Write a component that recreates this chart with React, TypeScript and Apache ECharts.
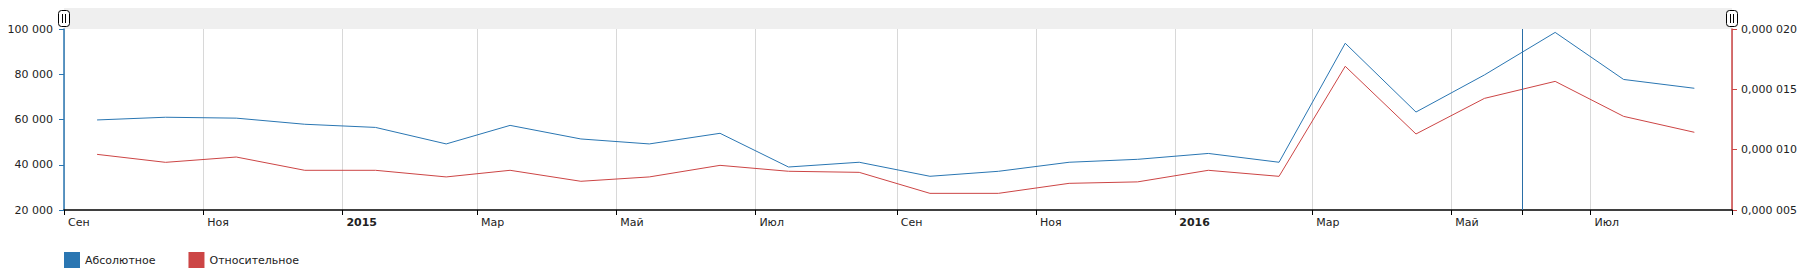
import React, { useEffect, useRef } from "react";
import * as echarts from "echarts";

// Months of the observations (points sit in the middle of each month)
const months = [
  "2014-09", "2014-10", "2014-11", "2014-12",
  "2015-01", "2015-02", "2015-03", "2015-04", "2015-05", "2015-06",
  "2015-07", "2015-08", "2015-09", "2015-10", "2015-11", "2015-12",
  "2016-01", "2016-02", "2016-03", "2016-04", "2016-05", "2016-06",
  "2016-07", "2016-08",
];

// "Абсолютное" (left axis)
const absoluteValues = [
  59800, 61000, 60600, 57900,
  56500, 49200, 57400, 51400, 49200, 53900,
  39000, 41100, 34900, 37100, 41100, 42400,
  45000, 41100, 93700, 63300, 79700, 98500,
  77700, 73800,
];

// "Относительное" (right axis)
const relativeValues = [
  0.00000961, 0.00000895, 0.00000939, 0.00000829,
  0.00000829, 0.00000774, 0.00000829, 0.00000738, 0.00000774, 0.0000087,
  0.00000821, 0.00000812, 0.00000638, 0.00000638, 0.00000721, 0.00000733,
  0.00000829, 0.00000779, 0.00001691, 0.0000113, 0.00001425, 0.00001566,
  0.00001276, 0.00001144,
];

const seriesNames = ["Абсолютное", "Относительное"];
const monthNames = ["Янв", "Фев", "Мар", "Апр", "Май", "Июн", "Июл", "Авг", "Сен", "Окт", "Ноя", "Дек"];

const xStart = "2014-09-01";
const xEnd = "2016-09-01";
const cursorDate = "2016-06-01";

const leftMin = 20000;
const leftMax = 100000;
const leftInterval = 20000;
const rightMin = 0.000005;
const rightMax = 0.00002;
const rightInterval = 0.000005;

const colors = { abs: "#2a76b2", rel: "#cc4545", cursor: "#2a6ea6" };

function dateOf(s: string): number {
  const [y, m, d] = s.split("-").map(Number);
  return new Date(y, m - 1, d || 15, d ? 0 : 12).getTime();
}

function fmtThousands(v: number): string {
  return String(Math.round(v)).replace(/\B(?=(\d{3})+(?!\d))/g, " ");
}

function fmtSmall(v: number): string {
  const s = v.toFixed(6).replace(".", ",");
  return s.replace(/,(\d{3})(\d{3})$/, ",$1 $2");
}

function handle(cx: number) {
  return {
    type: "group",
    x: cx,
    y: 10,
    silent: true,
    children: [
      {
        type: "rect",
        shape: { x: -5.5, y: 0.5, width: 11, height: 16, r: 3 },
        style: { fill: "#ffffff", stroke: "#000000", lineWidth: 1 },
      },
      {
        type: "line",
        shape: { x1: -1.5, y1: 4, x2: -1.5, y2: 13 },
        style: { stroke: "#000000", lineWidth: 1 },
      },
      {
        type: "line",
        shape: { x1: 1.5, y1: 4, x2: 1.5, y2: 13 },
        style: { stroke: "#000000", lineWidth: 1 },
      },
    ],
  };
}

export default function App() {
  const ref = useRef<HTMLDivElement>(null);

  useEffect(() => {
    if (!ref.current) return;
    const chart = echarts.init(ref.current, undefined, { renderer: "svg" });
    const font = "DejaVu Sans";
    const textColor = "#222222";
    const gridLeft = 64;
    const gridRight = 76;
    const gridTop = 29;
    const gridBottom = 63;
    const W = 1808;
    const H = 273;

    const absData = months.map((m, i) => [dateOf(m), absoluteValues[i]]);
    const relData = months.map((m, i) => [dateOf(m), relativeValues[i]]);
    const twoMonths = 61 * 24 * 3600 * 1000;
    const xMax = dateOf(xEnd);

    const baseGraphic = [
      {
        type: "rect",
        silent: true,
        shape: { x: gridLeft, y: 8, width: W - gridLeft - gridRight, height: 21 },
        style: { fill: "#efefef" },
      },
      handle(gridLeft),
      handle(W - gridRight),
    ];

    chart.setOption({
      animation: false,
      textStyle: { fontFamily: font },
      grid: { left: gridLeft, right: gridRight, top: gridTop, bottom: gridBottom },
      legend: {
        left: 59,
        top: 247,
        icon: "rect",
        itemWidth: 16,
        itemHeight: 16,
        itemGap: 33,
        textStyle: { fontFamily: font, fontSize: 11, color: textColor },
        data: seriesNames,
      },
      graphic: baseGraphic,
      xAxis: {
        type: "time",
        min: dateOf(xStart),
        max: xMax,
        splitNumber: 12,
        minInterval: twoMonths,
        maxInterval: twoMonths,
        axisLine: { show: true, lineStyle: { color: "#000000", width: 1.5 } },
        axisTick: { show: true, length: 5, lineStyle: { color: "#000000" } },
        splitLine: { show: true, lineStyle: { color: "#d8d8d8", width: 1 } },
        axisLabel: {
          show: true,
          align: "left",
          padding: [0, 0, 0, 4],
          margin: 7,
          fontFamily: font,
          fontSize: 11,
          color: textColor,
          showMinLabel: true,
          showMaxLabel: false,
          hideOverlap: false,
          formatter: (value: number) => {
            if (value >= xMax) return "";
            const d = new Date(value);
            if (d.getMonth() === 0) return `{y|${d.getFullYear()}}`;
            return monthNames[d.getMonth()];
          },
          rich: {
            y: { fontFamily: font, fontSize: 11, fontWeight: "bold", color: textColor },
          },
        },
      },
      yAxis: [
        {
          type: "value",
          min: leftMin,
          max: leftMax,
          interval: leftInterval,
          position: "left",
          axisLine: { show: true, lineStyle: { color: colors.abs, width: 1.5 } },
          axisTick: { show: true, length: 5, lineStyle: { color: colors.abs } },
          splitLine: { show: false },
          axisLabel: {
            margin: 11,
            fontFamily: font,
            fontSize: 11,
            color: textColor,
            formatter: (v: number) => fmtThousands(v),
          },
        },
        {
          type: "value",
          min: rightMin,
          max: rightMax,
          interval: rightInterval,
          position: "right",
          axisLine: { show: true, lineStyle: { color: colors.rel, width: 1.5 } },
          axisTick: { show: true, length: 5, lineStyle: { color: colors.rel } },
          splitLine: { show: false },
          axisLabel: {
            margin: 9,
            fontFamily: font,
            fontSize: 11,
            color: textColor,
            formatter: (v: number) => fmtSmall(v),
          },
        },
      ],
      series: [
        {
          name: seriesNames[0],
          type: "line",
          yAxisIndex: 0,
          data: absData,
          showSymbol: false,
          symbol: "none",
          color: colors.abs,
          lineStyle: { color: colors.abs, width: 1 },
          emphasis: { disabled: true },
          markLine: {
            silent: true,
            symbol: ["none", "none"],
            label: { show: false },
            lineStyle: { color: colors.cursor, width: 1, type: "solid" },
            emphasis: { disabled: true },
            data: [{ xAxis: dateOf(cursorDate) }],
          },
        },
        {
          name: seriesNames[1],
          type: "line",
          yAxisIndex: 1,
          data: relData,
          showSymbol: false,
          symbol: "none",
          color: colors.rel,
          lineStyle: { color: colors.rel, width: 1 },
          emphasis: { disabled: true },
        },
      ],
    });

    // Small tick under the x axis at the cursor position, placed via the axis scale
    const cx = chart.convertToPixel({ xAxisIndex: 0 }, dateOf(cursorDate)) as number;
    if (typeof cx === "number" && isFinite(cx)) {
      const px = Math.round(cx) + 0.5;
      const axisY = H - gridBottom;
      chart.setOption({
        graphic: [
          ...baseGraphic,
          {
            type: "line",
            silent: true,
            shape: { x1: px, y1: axisY, x2: px, y2: axisY + 5 },
            style: { stroke: "#000000", lineWidth: 1 },
          },
        ],
      });
    }

    return () => chart.dispose();
  }, []);

  return (
    <div
      ref={ref}
      style={{ position: "absolute", left: 0, top: 0, width: 1808, height: 273, background: "#ffffff" }}
    />
  );
}
